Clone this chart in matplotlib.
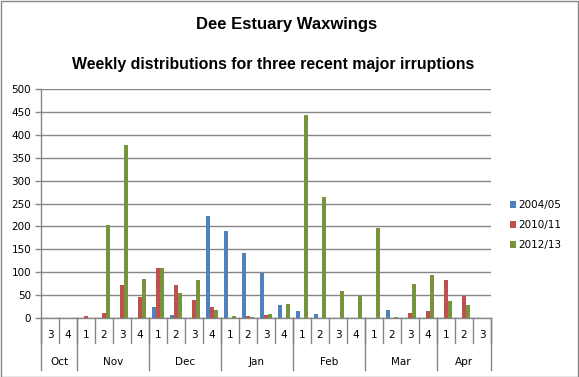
import matplotlib
matplotlib.use("Agg")
import matplotlib.pyplot as plt
import numpy as np

weeks = ["3", "4",
         "1", "2", "3", "4",
         "1", "2", "3", "4",
         "1", "2", "3", "4",
         "1", "2", "3", "4",
         "1", "2", "3", "4",
         "1", "2", "3"]
months = ["Oct", "Nov", "Dec", "Jan", "Feb", "Mar", "Apr"]
month_weeks = [2, 4, 4, 4, 4, 4, 3]

s2004 = [0, 0, 0, 0, 0, 0, 25, 7, 0, 222, 189, 141, 99, 29, 16, 9, 0, 0, 0, 18, 0, 0, 0, 0, 0]
s2010 = [0, 0, 5, 12, 71, 45, 109, 71, 40, 25, 0, 5, 7, 0, 0, 0, 0, 0, 0, 0, 12, 16, 84, 48, 0]
s2012 = [0, 0, 0, 203, 377, 85, 109, 54, 84, 18, 5, 3, 9, 31, 444, 264, 60, 48, 196, 3, 75, 93, 38, 29, 0]
series_names = ["2004/05", "2010/11", "2012/13"]
colors = ["#4F81BD", "#C0504D", "#77933C"]

plt.rcParams['font.family'] = ['DejaVu Sans']
W, H = 579, 377
fig = plt.figure(figsize=(W / 100, H / 100), dpi=100)

L, R, T, B = 41, 491, 89, 318
ax = fig.add_axes([L / W, 1 - B / H, (R - L) / W, (B - T) / H])

x = np.arange(len(weeks))
bw = 0.222
bars = []
for k, (vals, c) in enumerate(zip([s2004, s2010, s2012], colors)):
    b = ax.bar(x + (k - 1) * bw, vals, width=bw, color=c, zorder=3, label=series_names[k])
    bars.append(b)

fs = 7.5
ax.set_xlim(-0.5, len(weeks) - 0.5)
ax.set_ylim(0, 500)
ax.set_yticks(np.arange(0, 501, 50))
ax.yaxis.grid(True, color="#868686", linewidth=1)
ax.tick_params(axis="y", length=4, width=1, color="#868686", labelsize=fs, pad=3)
ax.tick_params(axis="x", length=0, labelbottom=False)
for s in ["top", "right"]:
    ax.spines[s].set_visible(False)
for s in ["left", "bottom"]:
    ax.spines[s].set_color("#868686")
    ax.spines[s].set_linewidth(1)

# multi-level category axis
tr = ax.get_xaxis_transform()
ph = B - T
y_week = -25 / ph
y_month = -52 / ph
lc = "#868686"
for i in range(len(weeks) + 1):
    ax.plot([i - 0.5, i - 0.5], [0, y_week], color=lc, lw=1, transform=tr, clip_on=False)
for i, w in enumerate(weeks):
    ax.text(i, -17 / ph, w, transform=tr, ha="center", va="center", fontsize=fs)
pos = 0
ax.plot([-0.5, -0.5], [0, y_month], color=lc, lw=1, transform=tr, clip_on=False)
for m, n in zip(months, month_weeks):
    ax.text(pos + (n - 1) / 2, -44 / ph, m, transform=tr, ha="center", va="center", fontsize=fs)
    pos += n
    ax.plot([pos - 0.5, pos - 0.5], [0, y_month], color=lc, lw=1, transform=tr, clip_on=False)

fig.text(287 / W, 1 - 24 / H, "Dee Estuary Waxwings", ha="center", va="center",
         fontsize=12, fontweight="bold", family="Liberation Sans")
fig.text(273 / W, 1 - 65 / H, "Weekly distributions for three recent major irruptions",
         ha="center", va="center", fontsize=11.4, fontweight="bold", family="Liberation Sans")

fig.legend(handles=bars, loc="center left", bbox_to_anchor=(510 / W, 1 - 225 / H),
           frameon=False, fontsize=fs, handlelength=0.6, handleheight=0.6,
           handletextpad=0.15, labelspacing=0.95, borderaxespad=0, borderpad=0)

fig.patches.append(plt.Rectangle((0.5 / W, 0.5 / H), 1 - 1.5 / W, 1 - 1.5 / H,
                                 transform=fig.transFigure, fill=False,
                                 edgecolor="#868686", lw=1))

fig.savefig("out.png", dpi=100)
